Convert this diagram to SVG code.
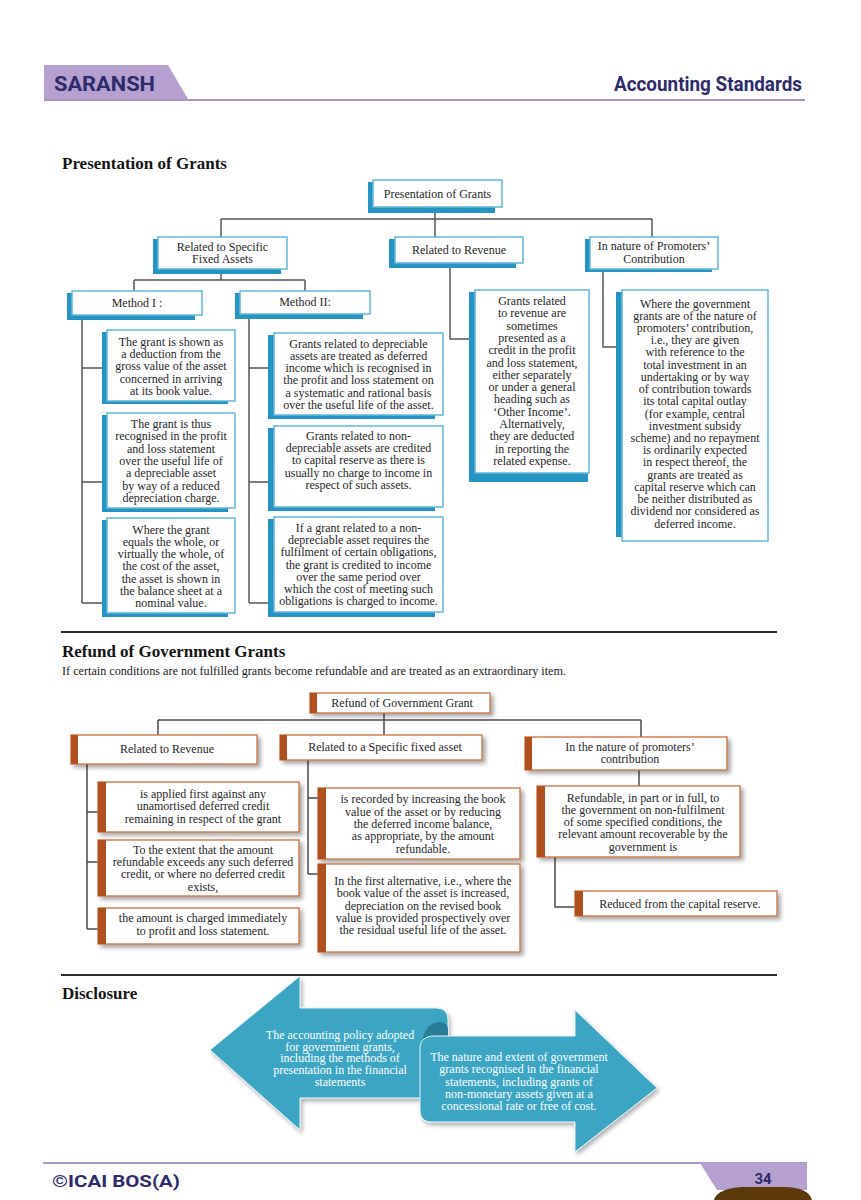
<svg xmlns="http://www.w3.org/2000/svg" width="861" height="1200" viewBox="0 0 861 1200">
<defs>
<style>
.bs{fill:#2594c2}
.bw{fill:#fff;stroke:#62b8da;stroke-width:1.5}
.rw{fill:#fff;stroke:#c8703f;stroke-width:1.3}
.rs{fill:#b1501f}
.t{font-family:"Liberation Serif","Times New Roman",serif;font-size:12px;fill:#262626;text-anchor:middle}
.tw{font-family:"Liberation Serif","Times New Roman",serif;font-size:12px;fill:#fff;text-anchor:middle}
.h{font-family:"Liberation Serif","Times New Roman",serif;font-size:17px;font-weight:bold;fill:#141414}
.hd{font-family:Roboto,"Liberation Sans",sans-serif;font-weight:bold;fill:#2d2b6b}
.c{fill:none;stroke:#555;stroke-width:1.5}
.cb{fill:none;stroke:#4a4a4a;stroke-width:1.5}
</style>
<filter id="sh" x="-10%" y="-10%" width="130%" height="140%">
<feDropShadow dx="3" dy="3" stdDeviation="2" flood-color="#000" flood-opacity="0.35"/>
</filter>
<filter id="ash" x="-10%" y="-10%" width="130%" height="130%">
<feDropShadow dx="2" dy="3" stdDeviation="2" flood-color="#000" flood-opacity="0.3"/>
</filter>
</defs>
<rect width="861" height="1200" fill="#fff"/>

<!-- Header -->
<g id="header">
<polygon points="44,65 168,65 188,99 44,99" fill="#b6a0d0"/>
<line x1="44" y1="100" x2="805" y2="100" stroke="#a899c2" stroke-width="2"/>
<text class="hd" x="54" y="91" font-size="20" textLength="101" lengthAdjust="spacingAndGlyphs">SARANSH</text>
<text class="hd" x="614" y="91" font-size="20" textLength="188" lengthAdjust="spacingAndGlyphs">Accounting Standards</text>
</g>

<text class="h" x="62" y="169">Presentation of Grants</text>

<!-- Connectors: presentation -->
<g id="connectors-top">
<path class="c" d="M435,207 V237"/>
<path class="c" d="M221,219 H652 M221,219 V237 M652,219 V237"/>
<path class="c" d="M221,269 V280 M134,280 H305 M134,280 V291 M305,280 V291"/>
<path class="c" d="M82,315 V603 M82,368 H102 M82,482 H102 M82,603 H102"/>
<path class="c" d="M249,314 V603 M249,368 H268 M249,482 H268 M249,603 H268"/>
<path class="c" d="M450,263 V339 H470"/>
<path class="c" d="M603,269 V347 H617"/>
</g>

<g id="n-pog">
<rect class="bs" x="368" y="182" width="127" height="31"/>
<rect class="bw" x="373" y="180" width="129" height="27"/>
<text class="t" x="437.5" y="197.5">Presentation of Grants</text>
</g>
<g id="n-rsfa">
<rect class="bs" x="153" y="239" width="128" height="35"/>
<rect class="bw" x="158" y="237" width="129" height="32"/>
<text class="t" x="222.5" y="250.5">Related to Specific</text>
<text class="t" x="222.5" y="263">Fixed Assets</text>
</g>
<g id="n-rr">
<rect class="bs" x="389" y="239" width="127" height="29"/>
<rect class="bw" x="395" y="237" width="128" height="26"/>
<text class="t" x="459" y="254">Related to Revenue</text>
</g>
<g id="n-pc">
<rect class="bs" x="585" y="239" width="127" height="33"/>
<rect class="bw" x="590" y="237" width="128" height="32"/>
<text class="t" x="654" y="250">In nature of Promoters’</text>
<text class="t" x="654" y="263">Contribution</text>
</g>
<g id="n-m1">
<rect class="bs" x="67" y="293" width="128" height="27"/>
<rect class="bw" x="72" y="291" width="130" height="24"/>
<text class="t" x="137" y="306.5">Method I :</text>
</g>
<g id="n-m2">
<rect class="bs" x="235" y="293" width="128" height="26"/>
<rect class="bw" x="240" y="291" width="130" height="23"/>
<text class="t" x="305" y="306">Method II:</text>
</g>

<g id="n-m1a">
<rect class="bs" x="102" y="332" width="126" height="72"/>
<rect class="bw" x="107" y="330" width="128" height="71"/>
<text class="t" x="171" y="346">The grant is shown as</text>
<text class="t" x="171" y="358.2">a deduction from the</text>
<text class="t" x="171" y="370.4">gross value of the asset</text>
<text class="t" x="171" y="382.6">concerned in arriving</text>
<text class="t" x="171" y="394.8">at its book value.</text>
</g>
<g id="n-m1b">
<rect class="bs" x="102" y="415" width="126" height="97"/>
<rect class="bw" x="107" y="413" width="128" height="95"/>
<text class="t" x="171" y="428">The grant is thus</text>
<text class="t" x="171" y="440.3">recognised in the profit</text>
<text class="t" x="171" y="452.6">and loss statement</text>
<text class="t" x="171" y="464.9">over the useful life of</text>
<text class="t" x="171" y="477.2">a depreciable asset</text>
<text class="t" x="171" y="489.5">by way of a reduced</text>
<text class="t" x="171" y="501.8">depreciation charge.</text>
</g>
<g id="n-m1c">
<rect class="bs" x="102" y="520" width="126" height="97"/>
<rect class="bw" x="107" y="518" width="128" height="95"/>
<text class="t" x="171" y="533.5">Where the grant</text>
<text class="t" x="171" y="545.8">equals the whole, or</text>
<text class="t" x="171" y="558.1">virtually the whole, of</text>
<text class="t" x="171" y="570.4">the cost of the asset,</text>
<text class="t" x="171" y="582.7">the asset is shown in</text>
<text class="t" x="171" y="595">the balance sheet at a</text>
<text class="t" x="171" y="607.3">nominal value.</text>
</g>

<g id="n-m2a">
<rect class="bs" x="268" y="335" width="167" height="84"/>
<rect class="bw" x="274" y="333" width="169" height="82"/>
<text class="t" x="358.5" y="347.5">Grants related to depreciable</text>
<text class="t" x="358.5" y="359.8">assets are treated as deferred</text>
<text class="t" x="358.5" y="372.1">income which is recognised in</text>
<text class="t" x="358.5" y="384.4">the profit and loss statement on</text>
<text class="t" x="358.5" y="396.7">a systematic and rational basis</text>
<text class="t" x="358.5" y="409">over the useful life of the asset.</text>
</g>
<g id="n-m2b">
<rect class="bs" x="268" y="428" width="167" height="83"/>
<rect class="bw" x="274" y="426" width="169" height="81"/>
<text class="t" x="358.5" y="440">Grants related to non-</text>
<text class="t" x="358.5" y="452.2">depreciable assets are credited</text>
<text class="t" x="358.5" y="464.4">to capital reserve as there is</text>
<text class="t" x="358.5" y="476.6">usually no charge to income in</text>
<text class="t" x="358.5" y="488.8">respect of such assets.</text>
</g>
<g id="n-m2c">
<rect class="bs" x="268" y="519" width="167" height="98"/>
<rect class="bw" x="274" y="517" width="169" height="95"/>
<text class="t" x="358.5" y="532">If a grant related to a non-</text>
<text class="t" x="358.5" y="544.2">depreciable asset requires the</text>
<text class="t" x="358.5" y="556.4">fulfilment of certain obligations,</text>
<text class="t" x="358.5" y="568.6">the grant is credited to income</text>
<text class="t" x="358.5" y="580.8">over the same period over</text>
<text class="t" x="358.5" y="593">which the cost of meeting such</text>
<text class="t" x="358.5" y="605.2">obligations is charged to income.</text>
</g>

<g id="n-rev">
<rect class="bs" x="469" y="292" width="119" height="190"/>
<rect class="bw" x="475" y="290" width="114" height="183"/>
<text class="t" x="532" y="305">Grants related</text>
<text class="t" x="532" y="317.3">to revenue are</text>
<text class="t" x="532" y="329.6">sometimes</text>
<text class="t" x="532" y="341.9">presented as a</text>
<text class="t" x="532" y="354.2">credit in the profit</text>
<text class="t" x="532" y="366.5">and loss statement,</text>
<text class="t" x="532" y="378.8">either separately</text>
<text class="t" x="532" y="391.1">or under a general</text>
<text class="t" x="532" y="403.4">heading such as</text>
<text class="t" x="532" y="415.7">‘Other Income’.</text>
<text class="t" x="532" y="428">Alternatively,</text>
<text class="t" x="532" y="440.3">they are deducted</text>
<text class="t" x="532" y="452.6">in reporting the</text>
<text class="t" x="532" y="464.9">related expense.</text>
</g>

<g id="n-prom">
<rect class="bs" x="616" y="292" width="12" height="245"/>
<rect class="bw" x="622" y="290" width="146" height="251"/>
<text class="t" x="695" y="307.5">Where the government</text>
<text class="t" x="695" y="319.7">grants are of the nature of</text>
<text class="t" x="695" y="331.9">promoters’ contribution,</text>
<text class="t" x="695" y="344.2">i.e., they are given</text>
<text class="t" x="695" y="356.4">with reference to the</text>
<text class="t" x="695" y="368.6">total investment in an</text>
<text class="t" x="695" y="380.8">undertaking or by way</text>
<text class="t" x="695" y="393">of contribution towards</text>
<text class="t" x="695" y="405.3">its total capital outlay</text>
<text class="t" x="695" y="417.5">(for example, central</text>
<text class="t" x="695" y="429.7">investment subsidy</text>
<text class="t" x="695" y="441.9">scheme) and no repayment</text>
<text class="t" x="695" y="454.1">is ordinarily expected</text>
<text class="t" x="695" y="466.4">in respect thereof, the</text>
<text class="t" x="695" y="478.6">grants are treated as</text>
<text class="t" x="695" y="490.8">capital reserve which can</text>
<text class="t" x="695" y="503">be neither distributed as</text>
<text class="t" x="695" y="515.2">dividend nor considered as</text>
<text class="t" x="695" y="527.5">deferred income.</text>
</g>

<line x1="61" y1="632" x2="777" y2="632" stroke="#2a2a2a" stroke-width="2"/>
<text class="h" x="62" y="657">Refund of Government Grants</text>
<text x="62" y="674.5" font-family="Liberation Serif, Times New Roman, serif" font-size="11.5" fill="#1a1a1a" textLength="504" lengthAdjust="spacingAndGlyphs">If certain conditions are not fulfilled grants become refundable and are treated as an extraordinary item.</text>

<!-- Connectors: refund -->
<g id="connectors-refund">
<path class="cb" d="M384,713 V735"/>
<path class="cb" d="M158,720 H641 M158,720 V735 M641,720 V737"/>
<path class="cb" d="M87,764 V929 M87,812 H98 M87,862 H98 M87,929 H98"/>
<path class="cb" d="M308,760 V874 M308,798 H318 M308,874 H318"/>
<path class="cb" d="M639,770 V786"/>
<path class="cb" d="M555,857 V907 H575"/>
</g>

<g id="b-top">
<rect class="rw" x="310" y="693" width="180" height="20" filter="url(#sh)"/>
<rect class="rs" x="310" y="693" width="7" height="20"/>
<text class="t" x="402" y="707">Refund of Government Grant</text>
</g>
<g id="b-rr">
<rect class="rw" x="71" y="735" width="186" height="29" filter="url(#sh)"/>
<rect class="rs" x="71" y="735" width="7" height="29"/>
<text class="t" x="167" y="753">Related to Revenue</text>
</g>
<g id="b-rs">
<rect class="rw" x="280" y="735" width="202" height="25" filter="url(#sh)"/>
<rect class="rs" x="280" y="735" width="7" height="25"/>
<text class="t" x="385" y="751">Related to a Specific fixed asset</text>
</g>
<g id="b-rp">
<rect class="rw" x="525" y="737" width="202" height="33" filter="url(#sh)"/>
<rect class="rs" x="525" y="737" width="7" height="33"/>
<text class="t" x="630" y="750.5">In the nature of promoters’</text>
<text class="t" x="630" y="762.5">contribution</text>
</g>
<g id="b-r1">
<rect class="rw" x="98" y="782" width="201" height="50" filter="url(#sh)"/>
<rect class="rs" x="98" y="782" width="8" height="50"/>
<text class="t" x="203" y="798">is applied first against any</text>
<text class="t" x="203" y="810.3">unamortised deferred credit</text>
<text class="t" x="203" y="822.6">remaining in respect of the grant</text>
</g>
<g id="b-r2">
<rect class="rw" x="98" y="840" width="201" height="56" filter="url(#sh)"/>
<rect class="rs" x="98" y="840" width="8" height="56"/>
<text class="t" x="203" y="854">To the extent that the amount</text>
<text class="t" x="203" y="866.2">refundable exceeds any such deferred</text>
<text class="t" x="203" y="878.4">credit, or where no deferred credit</text>
<text class="t" x="203" y="890.6">exists,</text>
</g>
<g id="b-r3">
<rect class="rw" x="98" y="908" width="201" height="36" filter="url(#sh)"/>
<rect class="rs" x="98" y="908" width="8" height="36"/>
<text class="t" x="203" y="922">the amount is charged immediately</text>
<text class="t" x="203" y="934.5">to profit and loss statement.</text>
</g>
<g id="b-s1">
<rect class="rw" x="318" y="788" width="202" height="71" filter="url(#sh)"/>
<rect class="rs" x="318" y="788" width="8" height="71"/>
<text class="t" x="423" y="803.3">is recorded by increasing the book</text>
<text class="t" x="423" y="815.6">value of the asset or by reducing</text>
<text class="t" x="423" y="827.9">the deferred income balance,</text>
<text class="t" x="423" y="840.2">as appropriate, by the amount</text>
<text class="t" x="423" y="852.5">refundable.</text>
</g>
<g id="b-s2">
<rect class="rw" x="318" y="864" width="202" height="88" filter="url(#sh)"/>
<rect class="rs" x="318" y="864" width="8" height="88"/>
<text class="t" x="423" y="885">In the first alternative, i.e., where the</text>
<text class="t" x="423" y="897.3">book value of the asset is increased,</text>
<text class="t" x="423" y="909.6">depreciation on the revised book</text>
<text class="t" x="423" y="921.9">value is provided prospectively over</text>
<text class="t" x="423" y="934.2">the residual useful life of the asset.</text>
</g>
<g id="b-p1">
<rect class="rw" x="537" y="786" width="203" height="71" filter="url(#sh)"/>
<rect class="rs" x="537" y="786" width="8" height="71"/>
<text class="t" x="643" y="801.5">Refundable, in part or in full, to</text>
<text class="t" x="643" y="813.8">the government on non-fulfilment</text>
<text class="t" x="643" y="826.1">of some specified conditions, the</text>
<text class="t" x="643" y="838.4">relevant amount recoverable by the</text>
<text class="t" x="643" y="850.7">government is</text>
</g>
<g id="b-p2">
<rect class="rw" x="575" y="891" width="202" height="25" filter="url(#sh)"/>
<rect class="rs" x="575" y="891" width="8" height="25"/>
<text class="t" x="680" y="907.5">Reduced from the capital reserve.</text>
</g>

<line x1="61" y1="975" x2="777" y2="975" stroke="#2a2a2a" stroke-width="2"/>
<text class="h" x="62" y="999">Disclosure</text>

<g id="disclosure-left">
<path d="M210,1050 L300,976 L300,1008 L436,1008 Q448,1008 448,1020 L448,1098 L300,1098 L300,1130 Z" fill="#3ba5c3" stroke="#e4f3f8" stroke-width="1" filter="url(#ash)"/>
<path d="M422,1048 C422,1030 430,1022 440,1022 C446,1022 448,1026 448,1030 L448,1048 Z" fill="#2a7d96"/>
<text class="tw" x="340" y="1039">The accounting policy adopted</text>
<text class="tw" x="340" y="1050.7">for government grants,</text>
<text class="tw" x="340" y="1062.4">including the methods of</text>
<text class="tw" x="340" y="1074.1">presentation in the financial</text>
<text class="tw" x="340" y="1085.8">statements</text>
</g>
<g id="disclosure-right">
<path d="M420,1048 C420,1040 426,1036 434,1036 L575,1036 L575,1010 L657,1088 L575,1152 L575,1122 L432,1122 C424,1122 420,1118 420,1110 Z" fill="#3ba5c3" stroke="#e4f3f8" stroke-width="1" filter="url(#ash)"/>
<text class="tw" x="519" y="1061">The nature and extent of government</text>
<text class="tw" x="519" y="1073.3">grants recognised in the financial</text>
<text class="tw" x="519" y="1085.6">statements, including grants of</text>
<text class="tw" x="519" y="1097.9">non-monetary assets given at a</text>
<text class="tw" x="519" y="1110.2">concessional rate or free of cost.</text>
</g>

<!-- Footer -->
<g id="footer">
<line x1="43" y1="1163" x2="807" y2="1163" stroke="#a899c2" stroke-width="2"/>
<polygon points="700,1163 807,1163 807,1190 717,1190" fill="#b6a0d0"/>
<path d="M714,1200 C716,1192 728,1187 745,1187 L785,1187 C800,1187 810,1192 812,1200 Z" fill="#5c3908"/>
<text class="hd" x="52" y="1187" font-size="17" textLength="128" lengthAdjust="spacingAndGlyphs">©ICAI BOS(A)</text>
<text class="hd" x="763" y="1184" font-size="15" text-anchor="middle" fill="#2d2a4a">34</text>
</g>
</svg>
